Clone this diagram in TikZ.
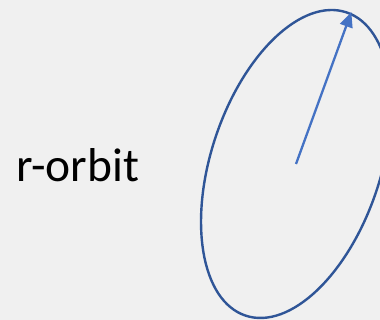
\documentclass[tikz,border=0pt]{standalone}
\usepackage{fontspec}
\setmainfont{Carlito}
\usetikzlibrary{arrows.meta}
\definecolor{bgc}{RGB}{240,240,240}
\definecolor{orbitc}{RGB}{47,85,151}
\definecolor{arrowc}{RGB}{68,114,196}
\tikzset{
  orbitline/.style={draw=orbitc, line width=2.4pt},
  radiusarrow/.style={draw=arrowc, line width=2.3pt, -{Triangle[length=15pt,width=13pt]}, shorten >=-1pt},
  labeltext/.style={inner sep=0pt, anchor=base west, font=\fontsize{47.5}{52}\selectfont}
}
\begin{document}
\begin{tikzpicture}[x=1pt,y=1pt]
  \fill[bgc] (0,0) rectangle (380,320);
  \useasboundingbox (0,0) rectangle (380,320);
  \begin{scope}
    \clip (0,0) rectangle (380,320);
    \draw[orbitline, rotate around={71.6:(296,156)}] (296,156) ellipse [x radius=159.8, y radius=84.8];
  \end{scope}
  \coordinate (center) at (296,156);
  \coordinate (tip) at (351,307);
  \draw[radiusarrow] (center) -- (tip);
  \node[labeltext] (label) at (16,138) {r-orbit};
\end{tikzpicture}
\end{document}
